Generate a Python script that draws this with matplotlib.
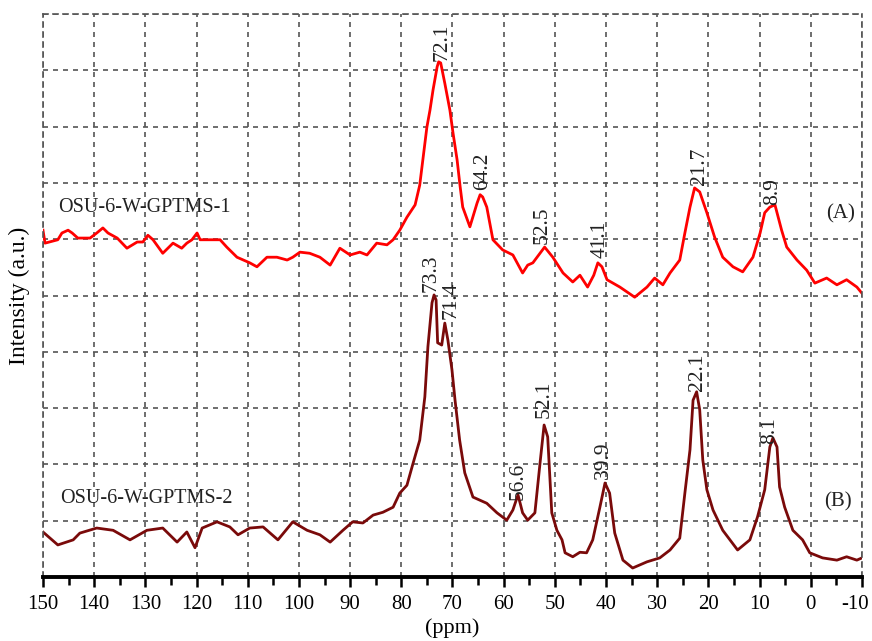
import numpy as np
import matplotlib
matplotlib.use('Agg')
from matplotlib import pyplot as plt
from matplotlib.ticker import MultipleLocator, FuncFormatter

plt.rcParams['font.family'] = ['Liberation Serif', 'DejaVu Serif']
plt.rcParams['axes.unicode_minus'] = False

# spectrum A: OSU-6-W-GPTMS-1 (ppm, intensity a.u.)
ppm_a = [150.0, 149.6, 147.1, 146.3, 145.1, 144.3, 143.2, 140.8, 139.5, 138.3,
         137.3, 135.5, 133.6, 131.6, 130.5, 129.5, 128.5, 126.6, 124.6, 122.9,
         121.9, 120.9, 119.9, 119.3, 117.4, 115.4, 114.1, 112.1, 109.6, 108.2,
         106.25, 104.3, 102.3, 101.2, 99.8, 97.9, 95.9, 93.9, 92.0, 90.0,
         88.1, 86.7, 84.8, 82.8, 81.6, 80.3, 78.9, 77.3, 76.4, 75.0,
         74.4, 73.8, 73.0, 72.7, 72.3, 71.5, 70.5, 69.9, 69.1, 68.5,
         68.0, 66.6, 65.2, 64.6, 64.1, 63.3, 62.1, 60.2, 58.2, 56.3,
         55.3, 54.3, 52.0, 50.4, 48.4, 46.5, 45.1, 43.6, 42.4, 41.6,
         40.8, 39.8, 37.3, 34.4, 32.0, 30.5, 28.9, 27.5, 25.6, 24.6,
         23.6, 22.7, 21.7, 20.3, 18.8, 17.2, 15.2, 13.3, 11.3, 9.9,
         9.0, 8.0, 7.0, 5.7, 4.7, 2.7, 0.8, -0.8, -3.1, -5.1,
         -7.0, -9.0, -10.0]
int_a = [6.16, 5.93, 5.99, 6.11, 6.16, 6.11, 6.02, 6.02, 6.11, 6.20,
         6.11, 6.02, 5.84, 5.95, 5.95, 6.07, 5.99, 5.75, 5.93, 5.84,
         5.93, 5.99, 6.11, 5.99, 5.99, 5.99, 5.86, 5.68, 5.58, 5.51,
         5.68, 5.68, 5.63, 5.68, 5.77, 5.75, 5.68, 5.54, 5.84, 5.72,
         5.77, 5.72, 5.93, 5.90, 5.99, 6.16, 6.39, 6.61, 6.96, 7.99,
         8.29, 8.65, 9.06, 9.15, 9.13, 8.77, 8.29, 7.89, 7.41, 6.93,
         6.57, 6.22, 6.64, 6.79, 6.75, 6.57, 5.99, 5.81, 5.72, 5.40,
         5.54, 5.58, 5.86, 5.68, 5.40, 5.24, 5.36, 5.15, 5.36, 5.58,
         5.51, 5.28, 5.15, 4.97, 5.15, 5.31, 5.19, 5.40, 5.63, 6.11,
         6.57, 6.91, 6.84, 6.47, 6.04, 5.68, 5.51, 5.42, 5.68, 6.11,
         6.47, 6.57, 6.61, 6.16, 5.86, 5.63, 5.45, 5.22, 5.31, 5.19,
         5.28, 5.15, 5.04]

# spectrum B: OSU-6-W-GPTMS-2
ppm_b = [150.0, 147.1, 144.1, 142.8, 139.5, 136.3, 133.0, 129.7, 126.6, 123.8,
         121.9, 120.3, 118.9, 116.0, 113.5, 111.9, 109.6, 107.0, 104.1, 101.2,
         98.4, 95.9, 93.9, 91.4, 89.5, 87.5, 85.5, 83.6, 81.6, 80.3,
         78.9, 77.7, 76.4, 75.4, 74.8, 74.0, 73.6, 73.2, 72.9, 72.1,
         71.5, 70.9, 70.1, 69.5, 68.6, 67.6, 66.0, 63.3, 61.3, 59.4,
         58.2, 57.2, 56.3, 55.3, 53.9, 52.9, 52.1, 51.4, 50.6, 49.6,
         48.6, 48.0, 46.5, 45.1, 43.8, 42.6, 41.2, 40.2, 39.3, 38.3,
         36.7, 34.8, 32.0, 29.5, 27.5, 25.6, 24.6, 23.6, 23.0, 22.3,
         21.7, 21.1, 20.3, 19.1, 17.2, 14.3, 11.9, 10.4, 9.0, 8.0,
         7.4, 6.6, 6.1, 5.1, 3.5, 1.6, 0.2, -2.3, -5.1, -7.0,
         -9.0, -10.0]
int_b = [0.80, 0.57, 0.66, 0.78, 0.87, 0.83, 0.66, 0.83, 0.87, 0.62,
         0.80, 0.52, 0.87, 0.98, 0.89, 0.75, 0.87, 0.89, 0.66, 0.98,
         0.83, 0.75, 0.62, 0.83, 0.98, 0.96, 1.10, 1.15, 1.24, 1.49,
         1.63, 2.02, 2.43, 3.20, 4.09, 4.87, 5.01, 4.92, 4.16, 4.12,
         4.51, 4.21, 3.68, 3.14, 2.43, 1.85, 1.42, 1.31, 1.14, 1.01,
         1.19, 1.46, 1.14, 1.01, 1.14, 2.02, 2.70, 2.49, 1.14, 0.83,
         0.66, 0.43, 0.36, 0.44, 0.43, 0.66, 1.24, 1.67, 1.49, 0.78,
         0.30, 0.16, 0.27, 0.34, 0.48, 0.69, 1.49, 2.26, 3.14, 3.29,
         2.97, 2.08, 1.55, 1.19, 0.83, 0.48, 0.66, 1.07, 1.55, 2.31,
         2.47, 2.31, 1.60, 1.24, 0.83, 0.66, 0.43, 0.34, 0.30, 0.36,
         0.30, 0.34]

peaks_a = [72.1, 64.2, 52.5, 41.1, 21.7, 8.9]
peaks_b = [73.3, 71.4, 56.6, 52.1, 39.9, 22.1, 8.1]

# small sideways nudges (points) so crowded labels sit as in the original
nudge = {73.3: -3.5, 71.4: 4.5, 8.9: 5.5, 56.6: -2, 39.9: -2.5}

fig = plt.figure(figsize=(8.72, 6.41), dpi=100)
ax = fig.add_axes([0.0493, 0.0998, 0.9392, 0.8784])

ax.plot(ppm_a, int_a, color='#ff0000', lw=2)
ax.plot(ppm_b, int_b, color='#7a0a0a', lw=2)


def label_peaks(ppm, inten, peaks):
    x = np.array(ppm)[::-1]
    y = np.array(inten)[::-1]
    for p in peaks:
        h = np.interp(p, x, y)
        ax.annotate(f'{p:.1f}', (p, h), xytext=(nudge.get(p, 0), 5), textcoords='offset points',
                    rotation=90, ha='center', va='bottom', fontsize=15.5, color='#222222')


label_peaks(ppm_a, int_a, peaks_a)
label_peaks(ppm_b, int_b, peaks_b)

ax.text(147.1, 6.57, 'OSU-6-W-GPTMS-1', fontsize=14.5, va='center', ha='left', color='#222222')
ax.text(146.7, 1.40, 'OSU-6-W-GPTMS-2', fontsize=14.5, va='center', ha='left', color='#222222')
ax.text(-5.8, 6.45, '(A)', fontsize=15, va='center', ha='center', color='#222222')
ax.text(-5.3, 1.33, '(B)', fontsize=15, va='center', ha='center', color='#222222')

xmin, xmax = 150, -10
ax.set_xlim(xmin, xmax)
ax.set_ylim(0, 10)
ax.xaxis.set_major_locator(MultipleLocator(10))
ax.xaxis.set_minor_locator(MultipleLocator(5))
# the edge label is drawn separately, pulled in a little so it is not clipped
ax.xaxis.set_major_formatter(FuncFormatter(lambda v, pos: '' if v == xmax else f'{v:g}'))
ax.yaxis.set_major_locator(MultipleLocator(1))
ax.set_yticklabels([])
ax.tick_params(axis='y', length=0)
ax.tick_params(axis='x', which='major', direction='out', length=7, width=1.8, labelsize=15, pad=6)
ax.tick_params(axis='x', which='minor', direction='out', length=6, width=1.8)
ax.grid(True, which='major', color='#555555', linestyle=(0, (3, 3)), lw=1.2)
ax.annotate(f'{xmax:g}', (xmax, 0), xycoords=('data', 'axes fraction'),
            xytext=(-5, -13), textcoords='offset points',
            ha='center', va='top', fontsize=15)

for s in ['left', 'right', 'top']:
    ax.spines[s].set_linestyle((0, (3, 3)))
    ax.spines[s].set_color('#555555')
    ax.spines[s].set_linewidth(1.2)
ax.spines['bottom'].set_linewidth(2.8)

ax.set_xlabel('(ppm)', fontsize=16, labelpad=3)
ax.set_ylabel('Intensity (a.u.)', fontsize=17, labelpad=6)

fig.savefig('out.png', dpi=100)
